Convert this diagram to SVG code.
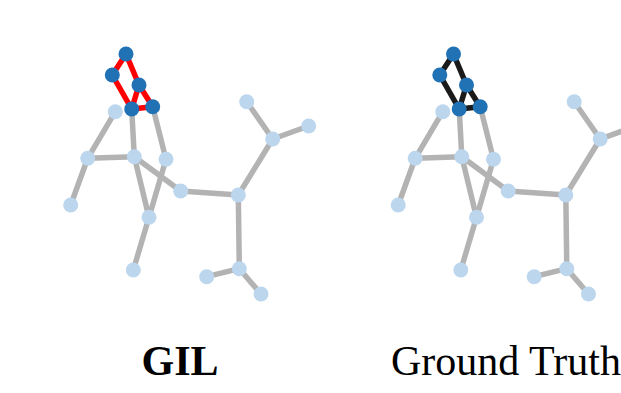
<svg xmlns="http://www.w3.org/2000/svg" width="621" height="393" viewBox="0 0 621 393">
  <style>
    .e { stroke: #b3b3b3; stroke-width: 5.5; stroke-linecap: round; fill: none; }
    .hl-red { stroke: #ff0000; stroke-width: 5.5; stroke-linecap: round; fill: none; }
    .hl-black { stroke: #1a1a1a; stroke-width: 5.5; stroke-linecap: round; fill: none; }
    .n { fill: #bcd6ee; }
    .d { fill: #2171b5; }
    .lbl { font-family: "Liberation Serif", "Times New Roman", serif; font-size: 42px; fill: #000; }
  </style>
  <defs>
    <!-- shared molecule skeleton edges (light part) -->
    <g id="skeleton">
      <line class="e" x1="131.7" y1="109" x2="134.3" y2="156.7"/>
      <line class="e" x1="152.7" y1="106.7" x2="166" y2="159.3"/>
      <line class="e" x1="115.3" y1="111.7" x2="87.7" y2="158.3"/>
      <line class="e" x1="87.7" y1="158.3" x2="134.3" y2="156.7"/>
      <line class="e" x1="87.7" y1="158.3" x2="70.7" y2="205"/>
      <line class="e" x1="134.3" y1="156.7" x2="180.7" y2="191"/>
      <line class="e" x1="134.3" y1="156.7" x2="149" y2="217.3"/>
      <line class="e" x1="166" y1="159.3" x2="149" y2="217.3"/>
      <line class="e" x1="149" y1="217.3" x2="133.3" y2="270"/>
      <line class="e" x1="180.7" y1="191" x2="238.3" y2="195"/>
      <line class="e" x1="238.3" y1="195" x2="272.7" y2="139"/>
      <line class="e" x1="272.7" y1="139" x2="246.7" y2="101.7"/>
      <line class="e" x1="272.7" y1="139" x2="308.7" y2="126"/>
      <line class="e" x1="238.3" y1="195" x2="239.3" y2="268.7"/>
      <line class="e" x1="239.3" y1="268.7" x2="206.7" y2="276.7"/>
      <line class="e" x1="239.3" y1="268.7" x2="261" y2="294"/>
    </g>
    <!-- highlighted ring edges -->
    <g id="ring">
      <line x1="126" y1="54" x2="112.3" y2="75"/>
      <line x1="126" y1="54" x2="139" y2="85"/>
      <line x1="112.3" y1="75" x2="131.7" y2="109"/>
      <line x1="139" y1="85" x2="131.7" y2="109"/>
      <line x1="139" y1="85" x2="152.7" y2="106.7"/>
      <line x1="131.7" y1="109" x2="152.7" y2="106.7"/>
    </g>
    <g id="atoms">
      <circle class="n" cx="115.3" cy="111.7" r="7.5"/>
      <circle class="n" cx="87.7" cy="158.3" r="7.5"/>
      <circle class="n" cx="134.3" cy="156.7" r="7.5"/>
      <circle class="n" cx="166" cy="159.3" r="7.5"/>
      <circle class="n" cx="70.7" cy="205" r="7.5"/>
      <circle class="n" cx="180.7" cy="191" r="7.5"/>
      <circle class="n" cx="149" cy="217.3" r="7.5"/>
      <circle class="n" cx="133.3" cy="270" r="7.5"/>
      <circle class="n" cx="238.3" cy="195" r="7.5"/>
      <circle class="n" cx="272.7" cy="139" r="7.5"/>
      <circle class="n" cx="246.7" cy="101.7" r="7.5"/>
      <circle class="n" cx="308.7" cy="126" r="7.5"/>
      <circle class="n" cx="239.3" cy="268.7" r="7.5"/>
      <circle class="n" cx="206.7" cy="276.7" r="7.5"/>
      <circle class="n" cx="261" cy="294" r="7.5"/>
      <circle class="d" cx="126" cy="54" r="7.5"/>
      <circle class="d" cx="112.3" cy="75" r="7.5"/>
      <circle class="d" cx="139" cy="85" r="7.5"/>
      <circle class="d" cx="131.7" cy="109" r="7.5"/>
      <circle class="d" cx="152.7" cy="106.7" r="7.5"/>
    </g>
  </defs>

  <rect width="621" height="393" fill="#ffffff"/>

  <!-- predicted explanation -->
  <g id="gil-graph">
    <g id="gil-connectors">
      <use href="#skeleton"/>
      <use href="#ring" class="hl-red"/>
    </g>
    <g id="gil-nodes">
      <use href="#atoms"/>
    </g>
  </g>

  <!-- reference explanation -->
  <g id="truth-graph" transform="translate(327.5,0)">
    <g id="truth-connectors">
      <use href="#skeleton"/>
      <use href="#ring" class="hl-black"/>
    </g>
    <g id="truth-nodes">
      <use href="#atoms"/>
    </g>
  </g>

  <g id="labels">
    <text class="lbl" x="180" y="375" text-anchor="middle" font-weight="bold">GIL</text>
    <text class="lbl" x="391" y="375">Ground Truth</text>
  </g>
</svg>
